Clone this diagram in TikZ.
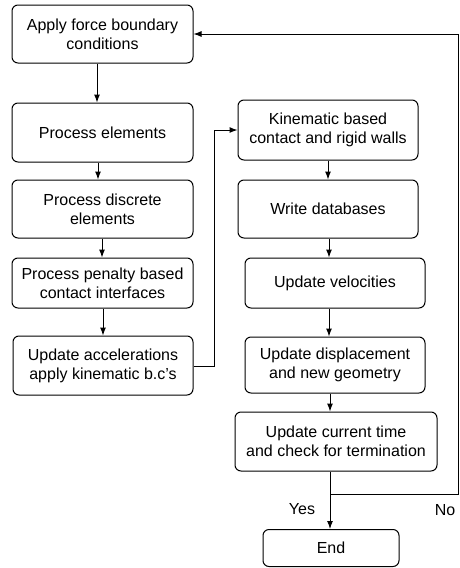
\documentclass[tikz,border=0pt]{standalone}
\usepackage{fontspec}
\setmainfont{Liberation Sans}
\usetikzlibrary{arrows.meta}
\begin{document}
\begin{tikzpicture}[x=1pt,y=-1pt,
  box/.style={draw, line width=1pt, rounded corners=6pt, align=center,
    font=\fontsize{16}{19}\selectfont, inner sep=0pt},
  arr/.style={line width=1pt, -{Latex[length=8pt,width=6pt]}},
  lbl/.style={font=\fontsize{16}{19}\selectfont, inner sep=0pt}]
\useasboundingbox (0,0) rectangle (460,568);

% left column
\node[box, minimum width=181pt, minimum height=58pt] (b1) at (102.5,34) {Apply force boundary\\conditions};
\node[box, minimum width=181pt, minimum height=59pt] (b2) at (102.5,132.5) {Process elements};
\node[box, minimum width=181pt, minimum height=58pt] (b3) at (102.5,209) {Process discrete\\elements};
\node[box, minimum width=181pt, minimum height=50pt] (b4) at (102.5,283) {Process penalty based\\contact interfaces};
\node[box, minimum width=180pt, minimum height=59pt] (b5) at (103,365.5) {Update accelerations\\apply kinematic b.c's};

% right column
\node[box, minimum width=180pt, minimum height=60pt] (b6) at (328,130) {Kinematic based\\contact and rigid walls};
\node[box, minimum width=180pt, minimum height=58pt] (b7) at (328,209) {Write databases};
\node[box, minimum width=180pt, minimum height=50pt] (b8) at (335,283) {Update velocities};
\node[box, minimum width=180pt, minimum height=56pt] (b9) at (335,365) {Update displacement\\and new geometry};
\node[box, minimum width=202pt, minimum height=59pt] (b10) at (336,441.5) {Update current time\\and check for termination};
\node[box, minimum width=136pt, minimum height=37pt] (b11) at (331,548) {End};

% left column flow
\draw[arr] (b1.south -| 97,0) -- (b2.north -| 97,0);
\draw[arr] (b2.south -| 98,0) -- (b3.north -| 98,0);
\draw[arr] (b3.south -| 102,0) -- (b4.north -| 102,0);
\draw[arr] (b4.south -| 103,0) -- (b5.north -| 103,0);

% jump to the right column
\coordinate (up) at (214,366);
\draw[arr] (b5.east |- up) -- (up) |- (b6.west);

% right column flow
\draw[arr] (b6.south -| 328,0) -- (b7.north -| 328,0);
\draw[arr] (b7.south -| 329,0) -- (b8.north -| 329,0);
\draw[arr] (b8.south -| 329,0) -- (b9.north -| 329,0);
\draw[arr] (b9.south -| 330,0) -- (b10.north -| 330,0);
\draw[arr] (b10.south -| 330,0) -- (b11.north -| 330,0);

% loop back when not terminated
\coordinate (j) at (330,494);
\coordinate (c1) at (458,494);
\coordinate (c2) at (458,34);
\draw[arr] (j) -- (c1) -- (c2) -- (b1.east);

\node[lbl] (yes) at (302,509) {Yes};
\node[lbl] (no) at (445,510) {No};
\end{tikzpicture}
\end{document}
